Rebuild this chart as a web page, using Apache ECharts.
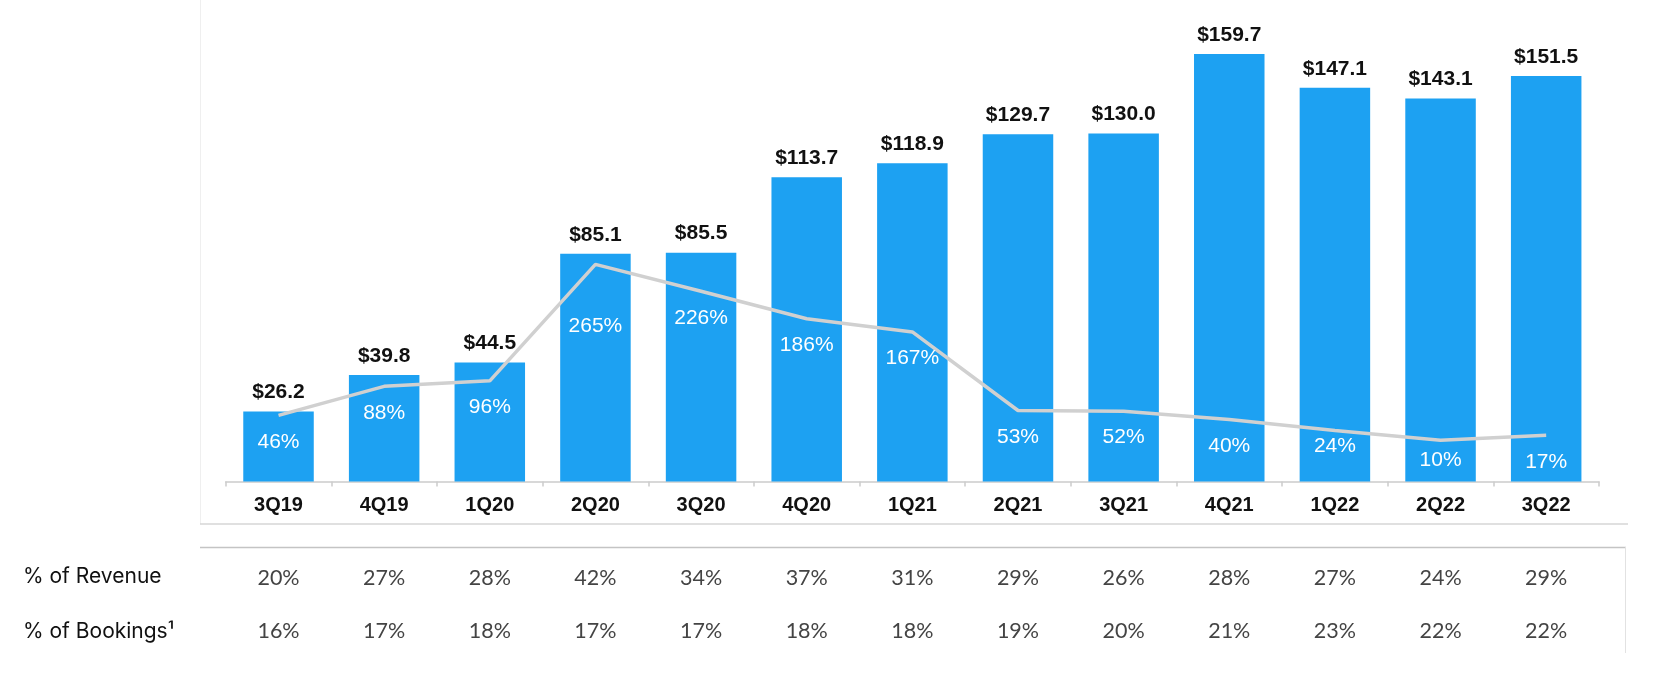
<!DOCTYPE html>
<html>
<head>
<meta charset="utf-8">
<script src="https://cdn.jsdelivr.net/npm/echarts@6/dist/echarts.min.js"></script>
<style>
html,body{margin:0;padding:0;background:#fff;}
#chart{width:1675px;height:674px;}
</style>
</head>
<body>
<div id="chart"></div>
<script>
const categories = ['3Q19','4Q19','1Q20','2Q20','3Q20','4Q20','1Q21','2Q21','3Q21','4Q21','1Q22','2Q22','3Q22'];
const values = [26.2, 39.8, 44.5, 85.1, 85.5, 113.7, 118.9, 129.7, 130.0, 159.7, 147.1, 143.1, 151.5];
const growthPct = [46, 88, 96, 265, 226, 186, 167, 53, 52, 40, 24, 10, 17];
const revenuePct = ['20%','27%','28%','42%','34%','37%','31%','29%','26%','28%','27%','24%','29%'];
const bookingsPct = ['16%','17%','18%','17%','17%','18%','18%','19%','20%','21%','23%','22%','22%'];
const rowTitles = ['% of Revenue', '% of Bookings\u00B9'];

// small label nudges for a few growth labels (vertical, px)
const growthLabelNudge = {3: 35, 10: -11, 11: -6};

const chart = echarts.init(document.getElementById('chart'));

const tableAxis = (data, offset) => ({
  type: 'category',
  data: data,
  position: 'bottom',
  offset: offset,
  axisLine: {show: false},
  axisTick: {show: false},
  splitLine: {show: false},
  axisLabel: {
    margin: 0,
    fontFamily: 'Lato',
    fontSize: 21.5,
    color: '#444444',
    verticalAlign: 'top'
  }
});

const growthLabel = (distance) => ({
  show: true,
  position: 'bottom',
  distance: distance,
  fontFamily: 'Liberation Sans, Arial, sans-serif',
  fontSize: 21,
  color: '#ffffff',
  formatter: p => p.value + '%'
});

const option = {
  backgroundColor: '#fff',
  animation: false,
  grid: {left: 225.7, right: 76, top: 26.5, bottom: 192.5, containLabel: false},
  xAxis: [
    {
      type: 'category',
      data: categories,
      axisLine: {lineStyle: {color: '#cccccc', width: 1.5}},
      axisTick: {show: true, length: 5, lineStyle: {color: '#cccccc', width: 1.5}},
      axisLabel: {
        margin: 13.5,
        fontFamily: 'Liberation Sans, Arial, sans-serif',
        fontWeight: 'bold',
        fontSize: 20,
        color: '#111'
      }
    },
    tableAxis(revenuePct, 85.5),
    tableAxis(bookingsPct, 139)
  ],
  yAxis: [
    {type: 'value', min: 0, max: 170, show: false, splitLine: {show: false}},
    {type: 'value', min: -50, max: 610, show: false, splitLine: {show: false}}
  ],
  series: [
    {
      type: 'bar',
      data: values,
      barWidth: 70.5,
      itemStyle: {color: '#1DA1F2'},
      label: {
        show: true,
        position: 'top',
        distance: 8.5,
        fontFamily: 'Liberation Sans, Arial, sans-serif',
        fontWeight: 'bold',
        fontSize: 21,
        color: '#111',
        formatter: p => '$' + p.value.toFixed(1)
      }
    },
    {
      type: 'line',
      yAxisIndex: 1,
      data: growthPct.map((v, i) => ({
        value: v,
        label: growthLabel(15.5 + (growthLabelNudge[i] || 0))
      })),
      symbol: 'circle',
      symbolSize: 1,
      showSymbol: true,
      itemStyle: {color: 'rgba(0,0,0,0)'},
      lineStyle: {color: '#d0d0d0', width: 3.5},
      label: growthLabel(15.5),
      labelLayout: {hideOverlap: false},
      z: 3
    }
  ],
  graphic: [
    {type: 'line', shape: {x1: 200.5, y1: 0, x2: 200.5, y2: 524}, style: {stroke: '#efefef', lineWidth: 1}, silent: true},
    {type: 'line', shape: {x1: 200, y1: 524, x2: 1628, y2: 524}, style: {stroke: '#d6d6d6', lineWidth: 1.5}, silent: true},
    {type: 'line', shape: {x1: 200, y1: 547.5, x2: 1626, y2: 547.5}, style: {stroke: '#c4c4c4', lineWidth: 1.5}, silent: true},
    {type: 'line', shape: {x1: 1625.5, y1: 547, x2: 1625.5, y2: 653}, style: {stroke: '#e2e2e2', lineWidth: 1}, silent: true},
    {type: 'text', left: 23, top: 566, style: {text: rowTitles[0], fontFamily: 'Inter', fontSize: 21, fill: '#111'}},
    {type: 'text', left: 23, top: 621, style: {text: rowTitles[1], fontFamily: 'Inter', fontSize: 21, fill: '#111'}}
  ]
};

chart.setOption(option);
</script>
</body>
</html>
